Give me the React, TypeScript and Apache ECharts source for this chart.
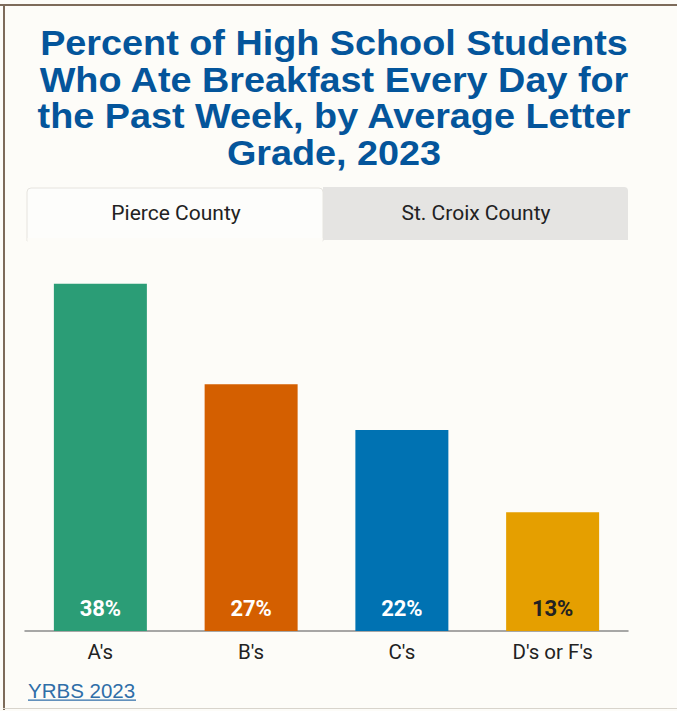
import React, { useEffect, useRef } from "react";
import * as echarts from "echarts";

const categories = ["A's", "B's", "C's", "D's or F's"];
const values = [38, 27, 22, 13];
const barColors = ["#2b9d76", "#d45f00", "#0072b2", "#e59f00"];
const labelColors = ["#ffffff", "#ffffff", "#ffffff", "#222222"];
const tabs = ["Pierce County", "St. Croix County"];
const titleText = "Percent of High School Students\nWho Ate Breakfast Every Day for\nthe Past Week, by Average Letter\nGrade, 2023";
const sourceText = "YRBS 2023";

export default function App() {
  const ref = useRef<HTMLDivElement>(null);
  useEffect(() => {
    if (!ref.current) return;
    const chart = echarts.init(ref.current, undefined, { renderer: "svg" });
    chart.setOption({
      animation: false,
      backgroundColor: "#fdfcf8",
      grid: { left: 25, right: 49, top: 265.5, bottom: 80, containLabel: false },
      xAxis: {
        type: "category",
        data: categories,
        axisLine: { lineStyle: { color: "#8a8a8a", width: 1.5 } },
        axisTick: { show: false },
        axisLabel: {
          color: "#222",
          fontFamily: "Roboto, sans-serif",
          fontSize: 20.5,
          margin: 10,
        },
      },
      yAxis: {
        type: "value",
        min: 0,
        max: 40,
        show: false,
        splitLine: { show: false },
      },
      series: [
        {
          type: "bar",
          barWidth: 93,
          data: values.map((v, i) => ({
            value: v,
            itemStyle: { color: barColors[i] },
            label: { color: labelColors[i] },
          })),
          label: {
            show: true,
            position: "insideBottom",
            distance: 12,
            formatter: "{c}%",
            fontFamily: "Roboto, sans-serif",
            fontWeight: "bold",
            fontSize: 22,
          },
        },
      ],
      graphic: [
        // frame borders
        { type: "rect", shape: { x: 0, y: 4, width: 677, height: 2 }, style: { fill: "#7d6b5a" } },
        { type: "rect", shape: { x: 3, y: 4, width: 2, height: 706 }, style: { fill: "#7d6b5a" } },
        { type: "rect", shape: { x: 3, y: 708, width: 674, height: 1 }, style: { fill: "#d8d4cc" } },
        // title
        {
          type: "text",
          x: 334,
          y: 25,
          scaleX: 1.08,
          style: {
            text: titleText,
            fill: "#04559b",
            font: "bold 35px 'Liberation Sans', Arial, sans-serif",
            lineHeight: 36.5,
            textAlign: "center",
            textVerticalAlign: "top",
          },
        },
        // tabs
        {
          type: "rect",
          shape: { x: 323, y: 187, width: 305, height: 53, r: [0, 4, 0, 0] },
          style: { fill: "#e5e4e2" },
        },
        {
          type: "rect",
          shape: { x: 27, y: 188, width: 296, height: 53, r: [4, 4, 0, 0] },
          style: { fill: "#fdfdfb", stroke: "#e6e4df", lineWidth: 1 },
        },
        {
          type: "rect",
          shape: { x: 27.5, y: 238, width: 295, height: 4 },
          style: { fill: "#fdfcf8" },
        },
        {
          type: "text",
          x: 176,
          y: 213,
          style: {
            text: tabs[0],
            fill: "#222",
            font: "21px Roboto, sans-serif",
            textAlign: "center",
            textVerticalAlign: "middle",
          },
        },
        {
          type: "text",
          x: 476,
          y: 213,
          style: {
            text: tabs[1],
            fill: "#222",
            font: "21px Roboto, sans-serif",
            textAlign: "center",
            textVerticalAlign: "middle",
          },
        },
        // source link
        {
          type: "text",
          x: 28,
          y: 690,
          style: {
            text: sourceText,
            fill: "#2f6ea8",
            font: "20.5px 'Liberation Sans', Arial, sans-serif",
            textAlign: "left",
            textVerticalAlign: "middle",
          },
        },
        {
          type: "rect",
          shape: { x: 28, y: 699.5, width: 108, height: 1.2 },
          style: { fill: "#2f6ea8" },
        },
      ],
    });
    return () => chart.dispose();
  }, []);
  return (
    <div
      ref={ref}
      style={{ position: "absolute", left: 0, top: 0, width: 677, height: 711 }}
    />
  );
}
